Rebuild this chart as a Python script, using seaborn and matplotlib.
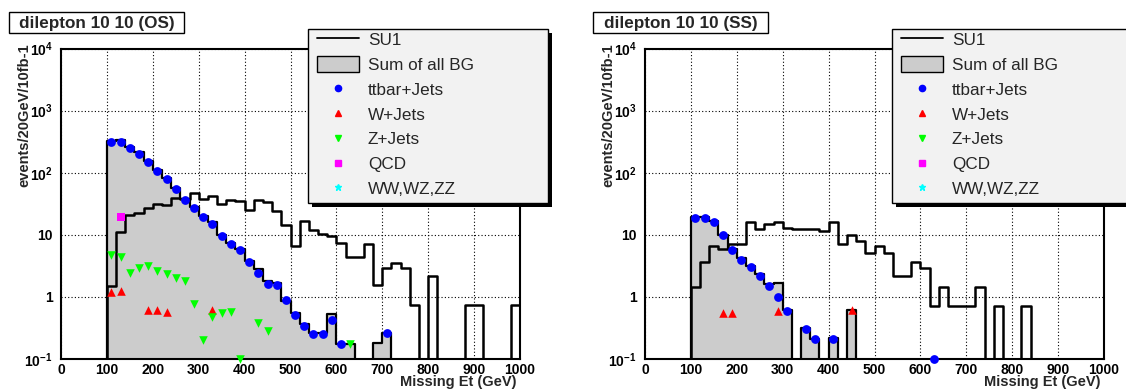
import numpy as np
import matplotlib
matplotlib.use('Agg')
import matplotlib.pyplot as plt
import seaborn as sns
from matplotlib.lines import Line2D
from matplotlib.patches import Patch, Rectangle
from matplotlib.ticker import FixedLocator, MultipleLocator, LogLocator, NullFormatter

# ---- data (20 GeV bins, bin centres) ----
edges = list(range(0, 1001, 20))

# OS panel
su1_os_x = [110, 130, 150, 170, 190, 210, 230, 250, 270, 290, 310, 330, 350, 370, 390,
            410, 430, 450, 470, 490, 510, 530, 550, 570, 590, 610, 630, 650, 670, 690,
            710, 730, 750, 770, 810, 890, 910, 990]
su1_os_y = [1.5, 10.9, 21, 22.8, 26.7, 31.4, 30, 39.6, 37.5, 46.9, 38.3, 41.9, 31, 36.4, 35,
            24.9, 36, 34, 24.5, 14.5, 6.6, 16.6, 12.1, 10.2, 9.4, 7.3, 4.47, 4.47, 7.2, 1.53,
            2.9, 3.57, 2.9, 0.73, 2.18, 0.73, 0.73, 0.73]
bg_os_x = [110, 130, 150, 170, 190, 210, 230, 250, 270, 290, 310, 330, 350, 370, 390,
           410, 430, 450, 470, 490, 510, 530, 550, 570, 590, 610, 630, 690, 710]
bg_os_y = [327, 335, 255, 212, 156, 110, 81, 56, 38, 28, 20, 16, 10, 7.3, 6,
           3.8, 2.8, 1.8, 1.7, 0.85, 0.55, 0.37, 0.26, 0.26, 0.54, 0.175, 0.175, 0.18, 0.26]
tt_os_x = [110, 130, 150, 170, 190, 210, 230, 250, 270, 290, 310, 330, 350, 370, 390,
           410, 430, 450, 470, 490, 510, 530, 550, 570, 590, 610, 710]
tt_os_y = [308, 311, 246, 202, 149, 106, 78, 54, 36, 27, 19.4, 15.2, 9.5, 7.0, 5.6,
           3.7, 2.4, 1.6, 1.55, 0.88, 0.52, 0.34, 0.255, 0.255, 0.43, 0.174, 0.26]
w_os_x = [110, 130, 190, 210, 230, 330]
w_os_y = [1.19, 1.24, 0.62, 0.62, 0.57, 0.62]
z_os_x = [110, 130, 150, 170, 190, 210, 230, 250, 270, 290, 310, 330, 350, 370, 390, 430, 450, 630]
z_os_y = [4.7, 4.36, 2.41, 2.9, 3.2, 2.63, 2.32, 2.0, 1.82, 0.78, 0.2, 0.48, 0.56, 0.58, 0.101,
          0.38, 0.28, 0.175]
qcd_os_x = [130]
qcd_os_y = [19.6]
vv_os_x = []
vv_os_y = []

# SS panel
su1_ss_x = [110, 130, 150, 170, 190, 210, 230, 250, 270, 290, 310, 330, 350, 370, 390,
            410, 430, 450, 470, 490, 510, 530, 550, 570, 590, 610, 630, 650, 670, 690,
            710, 730, 770, 830]
su1_ss_y = [1.45, 3.6, 6.6, 5.8, 7.2, 7.2, 16, 12.5, 15, 16, 12.7, 12.5, 12.5, 12.5, 11.6,
            15.8, 7.2, 10.1, 8.0, 5.1, 6.6, 5.1, 2.18, 2.18, 3.6, 2.94, 0.72, 1.45, 0.72, 0.72,
            0.72, 1.45, 0.72, 0.72]
bg_ss_x = [110, 130, 150, 170, 190, 210, 230, 250, 270, 290, 310, 350, 370, 410, 450]
bg_ss_y = [19, 19, 16.5, 9.8, 6.0, 4.3, 3.1, 2.3, 1.6, 1.65, 0.61, 0.31, 0.21, 0.22, 0.62]
tt_ss_x = [110, 130, 150, 170, 190, 210, 230, 250, 270, 290, 310, 350, 370, 410, 630]
tt_ss_y = [18.8, 18.8, 16, 9.8, 5.66, 3.95, 3.05, 2.2, 1.52, 1.0, 0.59, 0.30, 0.21, 0.21, 0.1]
w_ss_x = [170, 190, 290, 450]
w_ss_y = [0.55, 0.55, 0.6, 0.62]
z_ss_x = []
z_ss_y = []
qcd_ss_x = []
qcd_ss_y = []
vv_ss_x = []
vv_ss_y = []

legend_labels = ['SU1', 'Sum of all BG', 'ttbar+Jets', 'W+Jets', 'Z+Jets', 'QCD', 'WW,WZ,ZZ']
y_tick_vals = [0.1, 1, 10, 100, 1000, 10000]
y_tick_text = [r'$10^{-1}$', '1', '10', r'$10^{2}$', r'$10^{3}$', r'$10^{4}$']

sns.set_theme(style='white')
plt.rcParams['font.family'] = ['Liberation Sans', 'DejaVu Sans']
plt.rcParams['mathtext.fontset'] = 'custom'
plt.rcParams['mathtext.rm'] = 'Liberation Sans:bold'
plt.rcParams['mathtext.it'] = 'Liberation Sans:bold'
plt.rcParams['mathtext.bf'] = 'Liberation Sans:bold'

W, H = 1126, 391
fig = plt.figure(figsize=(W / 100, H / 100), dpi=100)
fig.patch.set_facecolor('white')

GREY = '#cccccc'
LEG_FS = 12.3


def px(x, y):
    # pixel (from top-left) -> figure fraction
    return x / W, 1 - y / H


def draw_panel(ax, su1, bg, pts, title, x0):
    sns.histplot(x=bg[0], weights=bg[1], bins=edges, element='step', fill=True,
                 facecolor=GREY, edgecolor='black', linewidth=1.6, alpha=1, ax=ax, zorder=1)
    sns.histplot(x=su1[0], weights=su1[1], bins=edges, element='step', fill=False,
                 color='black', linewidth=1.8, ax=ax, zorder=2)
    for (xs, ys, mk, col, size) in pts:
        if len(xs) == 0:
            continue
        sns.scatterplot(x=xs, y=ys, marker=mk, color=col, s=size, linewidth=0,
                        ax=ax, zorder=4, clip_on=False)

    ax.set_yscale('log')
    ax.set_xlim(0, 1000)
    ax.set_ylim(0.1, 1e4)
    ax.set_xlabel('')
    ax.set_ylabel('')

    ax.xaxis.set_major_locator(MultipleLocator(100))
    ax.xaxis.set_minor_locator(MultipleLocator(20))
    ax.yaxis.set_major_locator(FixedLocator(y_tick_vals))
    ax.set_yticklabels(y_tick_text)
    ax.yaxis.set_minor_locator(LogLocator(base=10, subs=np.arange(2, 10)))
    ax.yaxis.set_minor_formatter(NullFormatter())
    ax.tick_params(which='both', direction='in', top=False, right=False,
                   labelsize=10, colors='black')
    ax.tick_params(which='major', length=9, width=1.2)
    ax.tick_params(which='minor', length=5, width=1)
    ax.tick_params(axis='x', pad=3)
    ax.tick_params(axis='y', pad=6)
    for lab in ax.get_xticklabels() + ax.get_yticklabels():
        lab.set_fontweight('bold')
    ax.grid(True, which='major', linestyle=(0, (1, 2)), color='black', linewidth=0.8)
    for sp in ax.spines.values():
        sp.set_color('black')
        sp.set_linewidth(1.5)
        sp.set_visible(True)

    # axis titles
    fx, fy = px(x0 - 37, 43)
    fig.text(fx, fy, 'events/20GeV/10fb-1', rotation=90, ha='center', va='top',
             fontsize=10.5, fontweight='bold')
    fx, fy = px(x0 + 455, 382)
    fig.text(fx, fy, 'Missing Et (GeV)', ha='right', va='center',
             fontsize=10.5, fontweight='bold')

    # title box
    tb_x, tb_y, tb_w, tb_h = x0 - 52, 12, 175, 21
    fig.add_artist(Rectangle(px(tb_x, tb_y + tb_h), tb_w / W, tb_h / H,
                             transform=fig.transFigure, facecolor='white',
                             edgecolor='black', linewidth=1, zorder=5))
    fx, fy = px(tb_x + tb_w / 2, tb_y + tb_h / 2 + 1)
    fig.text(fx, fy, title, ha='center', va='center', fontsize=12.3,
             fontweight='bold', zorder=6)

    # legend box with ROOT-style shadow
    lx, ly, lw, lh = x0 + 247, 29, 240, 174
    fig.add_artist(Rectangle(px(lx + 4, ly + lh + 4), lw / W, lh / H,
                             transform=fig.transFigure, facecolor='black',
                             edgecolor='black', linewidth=0, zorder=5))
    fig.add_artist(Rectangle(px(lx, ly + lh), lw / W, lh / H,
                             transform=fig.transFigure, facecolor='#f2f2f2',
                             edgecolor='black', linewidth=1, zorder=5.5))
    handles = [
        Line2D([], [], color='black', linewidth=1.3),
        Patch(facecolor=GREY, edgecolor='black', linewidth=1),
        Line2D([], [], ls='', marker='o', color='blue', markersize=4.5),
        Line2D([], [], ls='', marker='^', color='red', markersize=4.5),
        Line2D([], [], ls='', marker='v', color='#00ff00', markersize=4.5),
        Line2D([], [], ls='', marker='s', color='magenta', markersize=4.5),
        Line2D([], [], ls='', marker='*', color='cyan', markersize=5),
    ]
    leg = fig.legend(handles, legend_labels, loc='upper left',
                     bbox_to_anchor=px(lx + 9, ly + 2.5), frameon=False, fontsize=LEG_FS,
                     borderpad=0, borderaxespad=0, handlelength=2.47, handletextpad=0.51,
                     handleheight=1.0, labelspacing=0.49)
    leg.set_zorder(6)


ax1 = fig.add_axes([61 / W, 1 - 359 / H, 459 / W, 310.5 / H])
ax2 = fig.add_axes([645 / W, 1 - 359 / H, 459 / W, 310.5 / H])

pts_os = [(tt_os_x, tt_os_y, 'o', 'blue', 40),
          (w_os_x, w_os_y, '^', 'red', 38),
          (z_os_x, z_os_y, 'v', '#00ff00', 38),
          (qcd_os_x, qcd_os_y, 's', 'magenta', 30),
          (vv_os_x, vv_os_y, '*', 'cyan', 40)]
pts_ss = [(tt_ss_x, tt_ss_y, 'o', 'blue', 40),
          (w_ss_x, w_ss_y, '^', 'red', 38),
          (z_ss_x, z_ss_y, 'v', '#00ff00', 38),
          (qcd_ss_x, qcd_ss_y, 's', 'magenta', 30),
          (vv_ss_x, vv_ss_y, '*', 'cyan', 40)]

draw_panel(ax1, (su1_os_x, su1_os_y), (bg_os_x, bg_os_y), pts_os, 'dilepton 10 10 (OS)', 61)
draw_panel(ax2, (su1_ss_x, su1_ss_y), (bg_ss_x, bg_ss_y), pts_ss, 'dilepton 10 10 (SS)', 645)

fig.savefig('out.png', dpi=100)
